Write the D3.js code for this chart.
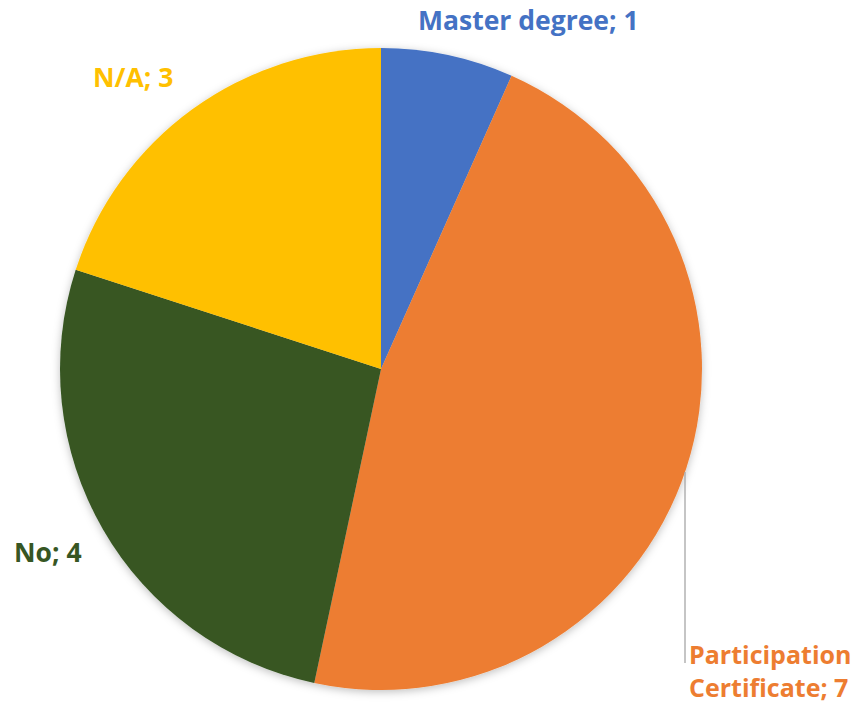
<!DOCTYPE html>
<html>
<head>
<meta charset="utf-8">
<script src="https://cdn.jsdelivr.net/npm/d3@7"></script>
<style>
body{margin:0;background:#fff;}
text{font-family:"Open Sans",Lato,sans-serif;font-weight:bold;}
</style>
</head>
<body>
<div id="plotdiv"></div>
<script>
// categories and values, clockwise from the top
var categories = ["Master degree", "Participation Certificate", "No", "N/A"];
var values = [1, 7, 4, 3];
var colors = ["#4472C4", "#ED7D31", "#375623", "#FFC000"];

function drawPie()
{
	var width = 856;
	var height = 703;
	var cx = 381, cy = 369, radius = 321;

	var svg = d3.select("#plotdiv")
		.append("svg")
		.attr("width", width)
		.attr("height", height);

	var defs = svg.append("defs");
	var filt = defs.append("filter").attr("id", "shadow")
		.attr("x", "-10%").attr("y", "-10%").attr("width", "120%").attr("height", "120%");
	filt.append("feDropShadow")
		.attr("dx", 0).attr("dy", 2)
		.attr("stdDeviation", 4)
		.attr("flood-color", "#000")
		.attr("flood-opacity", 0.25);

	var data = categories.map(function(c, i){ return {name: c, value: values[i], color: colors[i]}; });

	var pie = d3.pie().sort(null).value(function(d){ return d.value; });
	var arc = d3.arc().innerRadius(0).outerRadius(radius);

	var g = svg.append("g")
		.attr("transform", "translate(" + cx + "," + cy + ")")
		.attr("filter", "url(#shadow)");

	g.selectAll("path")
		.data(pie(data))
		.enter().append("path")
		.attr("d", arc)
		.attr("fill", function(d){ return d.data.color; });

	// leader line for the participation label
	var lx = 685;
	var ly0 = cy + Math.sqrt(radius * radius - (lx - cx) * (lx - cx));
	svg.append("line")
		.attr("x1", lx).attr("x2", lx)
		.attr("y1", ly0).attr("y2", 663)
		.attr("stroke", "#a6a6a6")
		.attr("stroke-width", 1.3);

	// label text and where each sits
	var labels = [
		{lines: ["Master degree; 1"], x: 418, y: 30, size: 26.5},
		{lines: ["Participation", "Certificate; 7"], x: 689, y: 664, size: 25},
		{lines: ["No; 4"], x: 14, y: 562, size: 26.5},
		{lines: ["N/A; 3"], x: 93, y: 87, size: 26.5}
	];

	labels.forEach(function(l, i){
		var t = svg.append("text")
			.attr("x", l.x)
			.attr("y", l.y)
			.attr("fill", colors[i])
			.style("font-size", l.size + "px");
		l.lines.forEach(function(s, j){
			t.append("tspan")
				.attr("x", l.x)
				.attr("dy", j == 0 ? 0 : 33)
				.text(s);
		});
	});
}

drawPie();
</script>
</body>
</html>
